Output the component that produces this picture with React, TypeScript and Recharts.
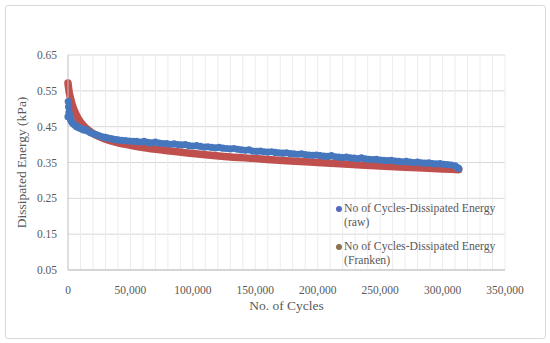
import React from "react";
import {
  ComposedChart,
  Scatter,
  Line,
  XAxis,
  YAxis,
  CartesianGrid,
  ReferenceLine,
} from "recharts";

const rawCycles = [
  0, 200, 500, 800, 1200, 1600, 2000, 2600, 3200, 4000, 5000, 6000, 7000, 8000, 9000, 10000, 11500, 13000,
  14500, 16000, 18000, 20000, 22000, 24000, 26000, 28000, 30000, 32000, 34000, 36000, 38000, 40000, 43000,
  46000, 49000, 52000, 55000, 58000, 61000, 64000, 67000, 70000, 73000, 76000, 79000, 82000, 85000, 88000,
  91000, 94000, 97000, 100000, 103000, 106000, 109000, 112000, 115000, 118000, 121000, 124000, 127000,
  130000, 133000, 136000, 139000, 142000, 145000, 148000, 151000, 154000, 157000, 160000, 163000, 166000,
  169000, 172000, 175000, 178000, 181000, 184000, 187000, 190000, 193000, 196000, 199000, 202000, 205000,
  208000, 211000, 214000, 217000, 220000, 223000, 226000, 229000, 232000, 235000, 238000, 241000, 244000,
  247000, 250000, 253000, 256000, 259000, 262000, 265000, 268000, 271000, 274000, 277000, 280000, 283000,
  286000, 289000, 292000, 295000, 298000, 301000, 304000, 307000, 310000, 312000, 313000,
];
const rawEnergy = [
  0.478, 0.52, 0.505, 0.49, 0.482, 0.475, 0.47, 0.466, 0.462, 0.459, 0.456, 0.453, 0.45, 0.449, 0.447, 0.445,
  0.443, 0.44, 0.442, 0.437, 0.433, 0.431, 0.428, 0.426, 0.423, 0.421, 0.42, 0.418, 0.417, 0.415, 0.414, 0.413,
  0.412, 0.411, 0.41, 0.409, 0.409, 0.407, 0.409, 0.406, 0.405, 0.407, 0.404, 0.403, 0.403, 0.401, 0.402, 0.4,
  0.399, 0.4, 0.397, 0.396, 0.397, 0.395, 0.393, 0.394, 0.392, 0.391, 0.392, 0.39, 0.389, 0.388, 0.389, 0.387,
  0.385, 0.384, 0.385, 0.382, 0.381, 0.382, 0.38, 0.379, 0.38, 0.378, 0.377, 0.376, 0.377, 0.375, 0.374,
  0.373, 0.374, 0.372, 0.371, 0.37, 0.371, 0.369, 0.368, 0.367, 0.369, 0.366, 0.365, 0.364, 0.365, 0.363, 0.362,
  0.361, 0.363, 0.36, 0.359, 0.358, 0.359, 0.357, 0.356, 0.355, 0.356, 0.354, 0.353, 0.352, 0.353, 0.351, 0.35,
  0.351, 0.349, 0.348, 0.349, 0.347, 0.346, 0.347, 0.345, 0.344, 0.343, 0.341, 0.336, 0.333,
];

const frankenCycles = [
  0, 1000, 2000, 3000, 4000, 6000, 8000, 10000, 13000, 16000, 20000, 25000, 30000, 40000, 50000, 60000, 80000,
  100000, 125000, 150000, 175000, 200000, 225000, 250000, 275000, 300000, 313000,
];
const frankenEnergy = [
  0.572, 0.545, 0.53, 0.516, 0.505, 0.488, 0.474, 0.463, 0.451, 0.441, 0.431, 0.422, 0.415, 0.405, 0.398,
  0.392, 0.383, 0.375, 0.367, 0.361, 0.355, 0.35, 0.345, 0.34, 0.336, 0.332, 0.33,
];

const xTicks = [0, 50000, 100000, 150000, 200000, 250000, 300000, 350000];
const xMinorTicks = [
  10000, 20000, 30000, 40000, 60000, 70000, 80000, 90000, 110000, 120000, 130000, 140000, 160000, 170000,
  180000, 190000, 210000, 220000, 230000, 240000, 260000, 270000, 280000, 290000, 310000, 320000, 330000,
  340000,
];
const yTicks = [0.05, 0.15, 0.25, 0.35, 0.45, 0.55, 0.65];

const rawData = rawCycles.map((x, i) => ({ x, raw: rawEnergy[i] }));
const frankenData = frankenCycles.map((x, i) => ({ x, franken: frankenEnergy[i] }));

const FONT = "'Liberation Serif', 'DejaVu Serif', serif";
const TEXT = "#595959";

const legendItems = [
  { line1: "No of Cycles-Dissipated Energy", line2: "(raw)", color: "#5668BF" },
  { line1: "No of Cycles-Dissipated Energy", line2: "(Franken)", color: "#8A7150" },
];

const LegendBox = () => (
  <div
    style={{
      position: "absolute",
      left: 336,
      top: 202,
      width: 175,
      fontFamily: FONT,
      fontSize: 11.7,
      color: TEXT,
      lineHeight: "14px",
    }}
  >
    {legendItems.map((it, i) => (
      <div key={i} style={{ display: "flex", marginBottom: i === 0 ? 10 : 0 }}>
        <span
          style={{
            width: 6,
            height: 6,
            borderRadius: 3,
            background: it.color,
            marginTop: 4,
            marginRight: 2,
            flex: "none",
          }}
        />
        <div>
          <div>{it.line1}</div>
          <div>{it.line2}</div>
        </div>
      </div>
    ))}
  </div>
);

export default function App() {
  return (
    <div style={{ position: "absolute", left: 0, top: 0, width: 550, height: 343, background: "#fff" }}>
      <div
        style={{
          position: "absolute",
          left: 5,
          top: 5,
          width: 539,
          height: 332,
          border: "1px solid #d9d9d9",
          borderRadius: 3,
        }}
      />
      <div style={{ position: "absolute", left: 0, top: 0 }}>
        <ComposedChart
          width={550}
          height={343}
          margin={{ top: 55, right: 45, bottom: 33, left: 0 }}
        >
          <CartesianGrid vertical={false} stroke="#d9d9d9" />
          {xMinorTicks.concat(xTicks.slice(1)).map((v) => (
            <ReferenceLine key={v} x={v} stroke="#ececec" strokeWidth={1} ifOverflow="visible" />
          ))}
          <XAxis
            type="number"
            dataKey="x"
            domain={[0, 350000]}
            ticks={xTicks}
            tickFormatter={(v: number) => v.toLocaleString("en-US")}
            tick={{ fontFamily: FONT, fontSize: 11.5, fill: TEXT }}
            tickLine={false}
            axisLine={{ stroke: "#bfbfbf" }}
            tickMargin={10}
            height={40}
            allowDuplicatedCategory={false}
            label={{
              value: "No. of Cycles",
              position: "insideBottom",
              offset: 0,
              style: { fontFamily: FONT, fontSize: 13.5, fill: TEXT },
            }}
          />
          <YAxis
            type="number"
            domain={[0.05, 0.65]}
            ticks={yTicks}
            tickFormatter={(v: number) => v.toFixed(2)}
            tick={{ fontFamily: FONT, fontSize: 11.5, fill: TEXT }}
            tickLine={false}
            axisLine={{ stroke: "#bfbfbf" }}
            tickMargin={5}
            width={68}
            label={{
              value: "Dissipated Energy (kPa)",
              angle: -90,
              position: "insideLeft",
              offset: 21,
              style: { fontFamily: FONT, fontSize: 13.5, fill: TEXT, textAnchor: "middle" },
            }}
          />
          <Scatter
            data={rawData}
            dataKey="raw"
            fill="#4677BD"
            shape={(p: any) => <circle cx={p.cx} cy={p.cy} r={3.6} fill="#4677BD" />}
            isAnimationActive={false}
          />
          <Line
            data={frankenData}
            dataKey="franken"
            type="monotone"
            stroke="#C0504D"
            strokeWidth={7.5}
            strokeLinecap="round"
            dot={false}
            activeDot={false}
            isAnimationActive={false}
          />
        </ComposedChart>
      </div>
      <LegendBox />
    </div>
  );
}
